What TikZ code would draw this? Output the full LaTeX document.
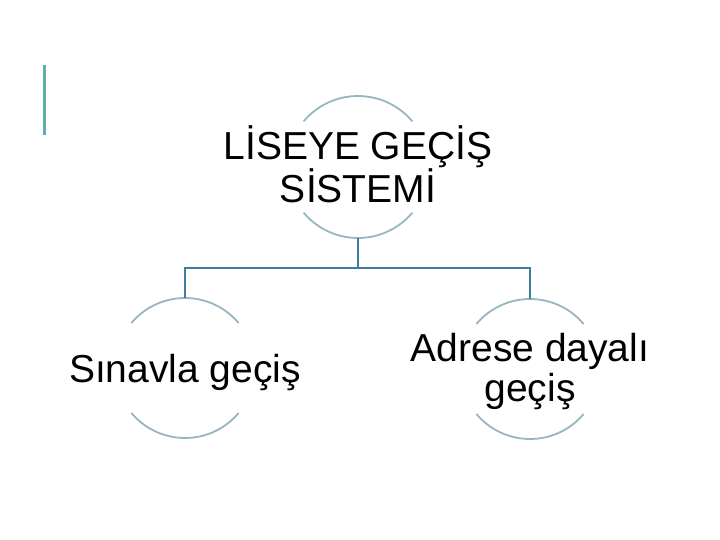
\documentclass[tikz,border=0pt]{standalone}
\usepackage{fontspec}
\setmainfont{Liberation Sans}
\definecolor{ringcol}{RGB}{150,182,192}
\definecolor{linkcol}{RGB}{62,125,155}
\definecolor{barcol}{RGB}{98,172,176}

\begin{document}
\begin{tikzpicture}[x=1pt, y=-1pt,
  ring/.style={circle, draw=none, minimum size=#1, inner sep=0pt, outer sep=0pt},
  txt/.style={align=center, font=\fontsize{39}{40}\selectfont},
  arcln/.style={ringcol, line width=1.8pt},
  link/.style={linkcol, line width=1.8pt}]
\useasboundingbox (0,0) rectangle (720,540);
% left accent bar
\draw[barcol, line width=3pt] (44,65) -- (44,135);
% the three circles (only top and bottom arcs are drawn)
\node[ring=142] (top)   at (358,167) {};
\node[ring=140] (left)  at (185,368) {};
\node[ring=140] (right) at (530,369) {};
\foreach \n/\r in {top/71,left/70,right/70} {
  \draw[arcln] (\n.40) arc[start angle=-40, end angle=-140, radius=\r];
  \draw[arcln] (\n.220) arc[start angle=140, end angle=40, radius=\r];
}
% texts
\node[txt] (toptxt)   at (358,164) {LİSEYE GEÇİŞ\\SİSTEMİ};
\node[txt] (lefttxt)  at (185,373) {Sınavla geçiş};
\node[txt] (righttxt) at (530,372) {Adrese dayalı\\geçiş};
% connectors
\coordinate (bus) at (358,268);
\draw[link] (top.south) -- (bus);
\draw[link] (left.north) |- (bus) -| (right.north);
\end{tikzpicture}
\end{document}
